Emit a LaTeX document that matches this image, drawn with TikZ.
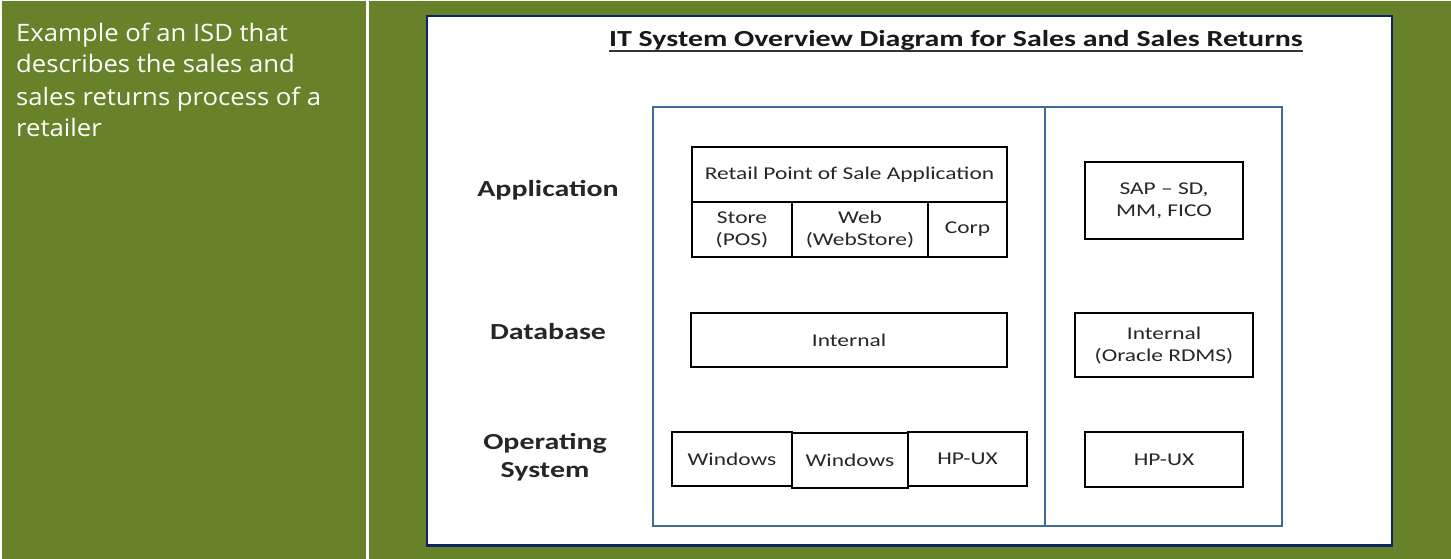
\documentclass[tikz,border=0pt]{standalone}
\usepackage{fontspec}
\setmainfont{Carlito}[FakeStretch=1.3]
\newfontfamily\leftfont{Open Sans}[FakeStretch=1.07]
\definecolor{bggreen}{RGB}{103,130,40}
\definecolor{navy}{RGB}{14,36,100}
\definecolor{frameblue}{RGB}{70,105,155}
\tikzset{
  box/.style={draw=black, line width=1.8pt, fill=white, inner sep=0pt, align=center,
    font=\fontsize{18}{22}\selectfont, text=black!85},
  rowlabel/.style={inner sep=0pt, align=center, font=\fontsize{23}{28}\selectfont\bfseries, text=black!85},
}
\begin{document}
\begin{tikzpicture}[x=1pt,y=-1pt]
\useasboundingbox (0,0) rectangle (1451,559);
% backgrounds
\fill[white] (0,0) rectangle (1451,559);
\fill[bggreen] (2,1) rectangle (366,559);
\fill[bggreen] (368.5,1) rectangle (1451,559);
% left text
\node[anchor=base west, inner sep=0pt, text=white, align=left,
  font=\leftfont\fontsize{24}{32}\selectfont] (desc) at (16,137)
  {Example of an ISD that\\describes the sales and\\sales returns process of a\\retailer};
% white panel
\fill[white] (427,16) rectangle (1392,546);
\draw[navy, line width=1.2pt] (427,546) -- (427,16) -- (1392,16) -- (1392,546);
\draw[navy, line width=3pt] (425.5,545.5) -- (1393,545.5);
% title
\node[inner sep=0pt, anchor=base, font=\fontsize{23}{26}\selectfont\bfseries, text=black!90] (title) at (956,47)
  {IT System Overview Diagram for Sales and Sales Returns};
\draw[black!80, line width=1.4pt] ([yshift=-4pt]title.base west) -- ([yshift=-4pt]title.base east);
% blue frame
\draw[frameblue, line width=2pt] (653,107) rectangle (1282,526);
\draw[frameblue, line width=2pt] (1045,107) -- (1045,526);
% row labels
\node[rowlabel] (lapp) at (548,190) {Application};
\node[rowlabel] (ldb) at (548,332) {Database};
\node[rowlabel] (los) at (545,457) {Operating\\System};
% application
\node[box, minimum width=315pt, minimum height=55pt] (pos) at (849.5,174.5) {Retail Point of Sale Application};
\node[box, minimum width=100pt, minimum height=55pt] (store) at (742,229.5) {Store\\(POS)};
\node[box, minimum width=136pt, minimum height=55pt] (web) at (860,229.5) {Web\\(WebStore)};
\node[box, minimum width=79pt, minimum height=55pt] (corp) at (967.5,229.5) {Corp};
\node[box, minimum width=158pt, minimum height=77pt] (sap) at (1164,200.5) {SAP -- SD,\\MM, FICO};
% database
\node[box, minimum width=316pt, minimum height=54pt] (int) at (849,340) {Internal};
\node[box, minimum width=178pt, minimum height=64pt] (ora) at (1164,345) {Internal\\(Oracle RDMS)};
% OS
\node[box, minimum width=120pt, minimum height=54pt] (win1) at (732,459) {Windows};
\node[box, minimum width=116pt, minimum height=55pt] (win2) at (850,460.5) {Windows};
\node[box, minimum width=119pt, minimum height=54pt] (hp1) at (967.5,459) {HP-UX};
\node[box, minimum width=158pt, minimum height=55pt] (hp2) at (1164,459.5) {HP-UX};
\end{tikzpicture}
\end{document}
